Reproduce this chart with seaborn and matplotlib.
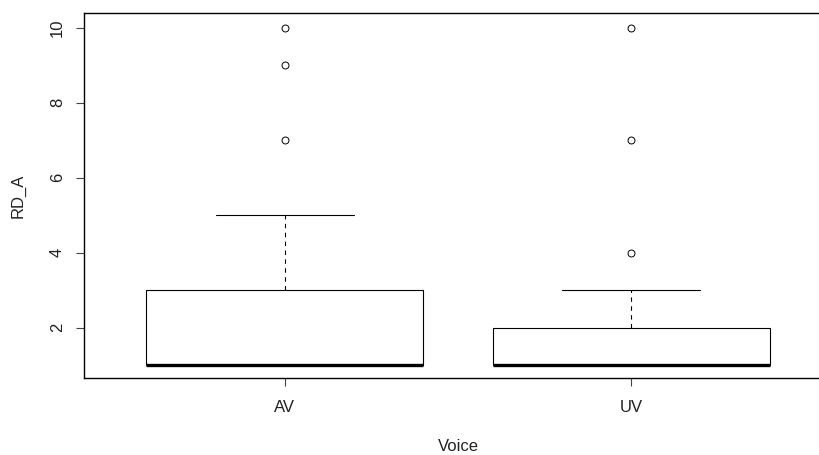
import matplotlib
matplotlib.use("Agg")
import matplotlib.pyplot as plt
import numpy as np
import pandas as pd
import seaborn as sns

# ---- Data (counts) ----
groups = ["AV", "UV"]
rd_av = [1] * 12 + [2] * 2 + [3] * 4 + [4, 5] + [7, 9, 10]
rd_uv = [1] * 14 + [2] * 5 + [3] * 2 + [4, 7, 10]
y_ticks = [2, 4, 6, 8, 10]

df = pd.DataFrame({
    "Voice": ["AV"] * len(rd_av) + ["UV"] * len(rd_uv),
    "RD_A": rd_av + rd_uv,
})

# ---- Style ----
sns.set_theme(style="ticks")
plt.rcParams["font.family"] = ["Liberation Sans", "DejaVu Sans"]
txt = "#222222"

fig = plt.figure(figsize=(8.19, 4.55), dpi=100)
ax = fig.add_axes([0.10256, 0.16923, 0.9133, 0.8022])

sns.boxplot(
    data=df, x="Voice", y="RD_A", order=groups, ax=ax,
    color="white", linecolor="black", linewidth=0.8, width=0.8,
    whis=1.5, saturation=1,
    medianprops=dict(linewidth=2.4, color="black", solid_capstyle="butt"),
    whiskerprops=dict(linestyle=(0, (4, 4)), color="black", linewidth=0.8),
    capprops=dict(color="black", linewidth=0.8),
    flierprops=dict(marker="o", markerfacecolor="none", markeredgecolor="black",
                    markeredgewidth=0.7, markersize=5),
)

ax.set_xlim(-0.58, 1.58)
ax.set_ylim(0.66, 10.39)
ax.set_yticks(y_ticks)
ax.set_yticklabels([str(t) for t in y_ticks], rotation=90, va="center")

for s in ax.spines.values():
    s.set_visible(True)
    s.set_color("black")
    s.set_linewidth(1.0)
# the right edge of the frame falls outside the picture in the reference
ax.spines["right"].set_visible(False)

ax.tick_params(axis="both", direction="out", length=5.8, width=0.8,
               color="#444444", labelsize=12, labelcolor=txt)
ax.tick_params(axis="x", pad=10)
ax.tick_params(axis="y", pad=8)

ax.set_xlabel("Voice", fontsize=12, color=txt)
ax.set_ylabel("RD_A", fontsize=12, color=txt)
ax.xaxis.set_label_coords(0.5, -0.189)
ax.xaxis.label.set_va("center")
ax.yaxis.set_label_coords(-0.0882, 0.5)
ax.yaxis.label.set_va("center")
ax.grid(False)

fig.savefig("out.png", dpi=100)
